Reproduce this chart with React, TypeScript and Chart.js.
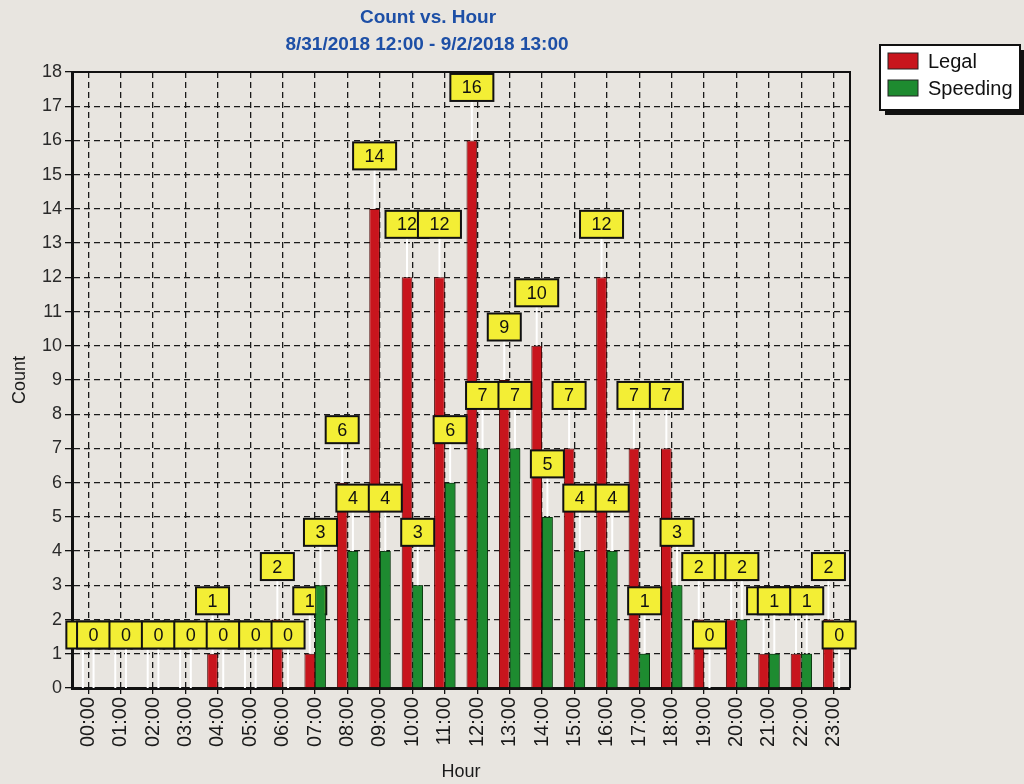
import React, { useEffect, useRef } from "react";
import { Chart, registerables } from "chart.js";

Chart.register(...registerables);

const TITLE_LINES = ["Count vs. Hour", "8/31/2018 12:00 - 9/2/2018 13:00"];
const X_TITLE = "Hour";
const Y_TITLE = "Count";
const HOURS = [
  "00:00", "01:00", "02:00", "03:00", "04:00", "05:00", "06:00", "07:00",
  "08:00", "09:00", "10:00", "11:00", "12:00", "13:00", "14:00", "15:00",
  "16:00", "17:00", "18:00", "19:00", "20:00", "21:00", "22:00", "23:00",
];
const SERIES_NAMES = ["Legal", "Speeding"];
const LEGAL = [0, 0, 0, 0, 1, 0, 2, 1, 6, 14, 12, 12, 16, 9, 10, 7, 12, 7, 7, 2, 2, 1, 1, 2];
const SPEEDING = [0, 0, 0, 0, 0, 0, 0, 3, 4, 4, 3, 6, 7, 7, 5, 4, 4, 1, 3, 0, 2, 1, 1, 0];
const Y_MIN = 0;
const Y_MAX = 18;
const Y_STEP = 1;

const BG = "#e8e5e0";
const RED = "#c8151d";
const RED_EDGE = "#4a0707";
const GREEN = "#1e8b30";
const GREEN_EDGE = "#0c3a12";
const YELLOW = "#f3ee35";
const TITLE_BLUE = "#1d4fa6";
const FONT = '"Liberation Sans", Arial, sans-serif';

const bgPlugin = {
  id: "bgFill",
  beforeDraw(chart: any) {
    const { ctx, width, height } = chart;
    ctx.save();
    ctx.fillStyle = BG;
    ctx.fillRect(0, 0, width, height);
    ctx.restore();
  },
};

const titlePlugin = {
  id: "twoLineTitle",
  afterDraw(chart: any) {
    const { ctx } = chart;
    ctx.save();
    ctx.fillStyle = TITLE_BLUE;
    ctx.font = `bold 19px ${FONT}`;
    ctx.textAlign = "center";
    ctx.textBaseline = "middle";
    ctx.fillText(TITLE_LINES[0], 428, 18);
    ctx.fillText(TITLE_LINES[1], 427, 45);
    ctx.restore();
  },
};

const framePlugin = {
  id: "frame",
  afterDatasetsDraw(chart: any) {
    const { ctx, chartArea: a } = chart;
    ctx.save();
    ctx.strokeStyle = "#111";
    ctx.lineWidth = 2;
    ctx.beginPath();
    ctx.moveTo(a.left, a.top);
    ctx.lineTo(a.right, a.top);
    ctx.lineTo(a.right, a.bottom);
    ctx.stroke();
    ctx.restore();
  },
};

const valueBoxPlugin = {
  id: "valueBoxes",
  afterDatasetsDraw(chart: any) {
    const { ctx, chartArea: a } = chart;
    const drawLabels = (di: number) => {
      const meta = chart.getDatasetMeta(di);
      const ds = chart.data.datasets[di];
      ctx.save();
      ctx.font = `18px ${FONT}`;
      meta.data.forEach((bar: any, i: number) => {
        const text = String(ds.data[i]);
        const tw = ctx.measureText(text).width;
        const w = tw + 23;
        const h = 27;
        const cx = bar.x;
        const cy = bar.y - 53;
        ctx.strokeStyle = "#ffffff";
        ctx.lineWidth = 2;
        ctx.beginPath();
        ctx.moveTo(cx, cy + h / 2);
        ctx.lineTo(cx, bar.y);
        ctx.stroke();
        ctx.fillStyle = YELLOW;
        ctx.fillRect(cx - w / 2, cy - h / 2, w, h);
        ctx.strokeStyle = "#111";
        ctx.lineWidth = 2;
        ctx.strokeRect(cx - w / 2, cy - h / 2, w, h);
        ctx.fillStyle = "#111";
        ctx.textAlign = "center";
        ctx.textBaseline = "middle";
        ctx.fillText(text, cx, cy + 1);
      });
      ctx.restore();
    };
    drawLabels(0);
    const m1 = chart.getDatasetMeta(1);
    ctx.save();
    ctx.beginPath();
    ctx.rect(a.left, a.top, a.right - a.left, a.bottom - a.top);
    ctx.clip();
    m1.data.forEach((el: any) => el.draw(ctx));
    ctx.restore();
    drawLabels(1);
  },
};

const legendPlugin = {
  id: "boxLegend",
  afterDraw(chart: any) {
    const { ctx, chartArea: a } = chart;
    const x = a.right + 30;
    const y = a.top - 27;
    const w = 140;
    const h = 65;
    ctx.save();
    ctx.fillStyle = "#111";
    ctx.fillRect(x + 5, y + 5, w, h);
    ctx.fillStyle = "#ffffff";
    ctx.fillRect(x, y, w, h);
    ctx.strokeStyle = "#111";
    ctx.lineWidth = 2;
    ctx.strokeRect(x, y, w, h);
    const items = chart.data.datasets;
    items.forEach((ds: any, i: number) => {
      const sy = y + 8 + i * 27;
      ctx.fillStyle = ds.backgroundColor;
      ctx.fillRect(x + 8, sy, 30, 16);
      ctx.strokeStyle = "#222";
      ctx.lineWidth = 1;
      ctx.strokeRect(x + 8, sy, 30, 16);
      ctx.fillStyle = "#111";
      ctx.font = `20px ${FONT}`;
      ctx.textAlign = "left";
      ctx.textBaseline = "middle";
      ctx.fillText(ds.label, x + 48, sy + 9);
    });
    ctx.restore();
  },
};

export default function App() {
  const ref = useRef<HTMLCanvasElement | null>(null);

  useEffect(() => {
    if (!ref.current) return;
    const chart = new Chart(ref.current, {
      type: "bar",
      data: {
        labels: HOURS,
        datasets: [
          {
            label: SERIES_NAMES[0],
            data: LEGAL,
            backgroundColor: RED,
            borderColor: RED_EDGE,
            borderWidth: 1,
            categoryPercentage: 0.66,
            barPercentage: 1,
          },
          {
            label: SERIES_NAMES[1],
            data: SPEEDING,
            backgroundColor: GREEN,
            borderColor: GREEN_EDGE,
            borderWidth: 1,
            categoryPercentage: 0.66,
            barPercentage: 1,
          },
        ],
      },
      options: {
        animation: false,
        responsive: true,
        maintainAspectRatio: false,
        layout: { padding: { top: 72, right: 174, left: 0, bottom: 0 } },
        plugins: {
          legend: { display: false },
          title: { display: false },
          tooltip: { enabled: false },
        },
        scales: {
          x: {
            offset: true,
            grid: {
              offset: false,
              color: "#1a1a1a",
              lineWidth: 1.3,
              tickColor: "#111",
              tickLength: 6,
            },
            border: { display: true, color: "#111", width: 3, dash: [6, 4] },
            ticks: {
              autoSkip: false,
              maxRotation: 90,
              minRotation: 90,
              padding: 3,
              color: "#1a1a1a",
              font: { family: FONT, size: 20 },
            },
            title: {
              display: true,
              text: X_TITLE,
              color: "#1a1a1a",
              font: { family: FONT, size: 18 },
              padding: { top: 2, bottom: 1 },
            },
            afterFit: (s: any) => {
              s.height = 96;
            },
          },
          y: {
            min: Y_MIN,
            max: Y_MAX,
            grid: {
              color: "#1a1a1a",
              lineWidth: 1.3,
              tickColor: "#111",
              tickLength: 7,
            },
            border: { display: true, color: "#111", width: 3, dash: [6, 4] },
            ticks: {
              stepSize: Y_STEP,
              padding: 3,
              color: "#2a2a2a",
              font: { family: FONT, size: 18 },
            },
            title: {
              display: true,
              text: Y_TITLE,
              color: "#1a1a1a",
              font: { family: FONT, size: 18 },
              padding: { top: 9, bottom: 0 },
            },
            afterFit: (s: any) => {
              s.width = 72;
            },
          },
        },
      },
      plugins: [bgPlugin, framePlugin, valueBoxPlugin, legendPlugin, titlePlugin],
    });
    return () => chart.destroy();
  }, []);

  return (
    <div
      style={{
        position: "fixed",
        left: 0,
        top: 0,
        width: 1024,
        height: 784,
        background: BG,
      }}
    >
      <canvas ref={ref} />
    </div>
  );
}
